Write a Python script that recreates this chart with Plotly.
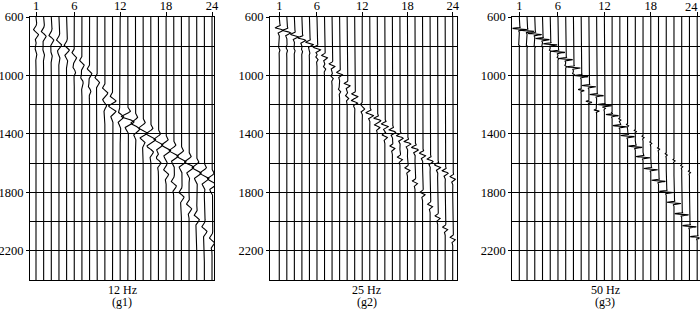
import numpy as np
import plotly.graph_objects as go

# ---------------- data ----------------
TRACES = list(range(1, 25))
X_TICKS = [1, 6, 12, 18, 24]
Y_TICKS = [600, 1000, 1400, 1800, 2200]
T_MIN, T_MAX = 600, 2400
FREQS_HZ = [12, 25, 50]
FREQ_LABELS = ["12 Hz", "25 Hz", "50 Hz"]
PANEL_LABELS = ["(g1)", "(g2)", "(g3)"]

# event A: main (curved) arrival, ms per trace
G1_A_TIME = [702, 714, 740, 772, 808, 860, 912, 970, 1030, 1100, 1160, 1225,
             1292, 1365, 1435, 1508, 1580, 1660, 1740, 1815, 1895, 1970, 2050, 2128]
G1_A_AMP = [0.38, 0.38, 0.38, 0.38, 0.38, 0.35, 0.35, 0.35, 0.35, 0.35, 0.35, 0.35,
            0.35, 0.35, 0.35, 0.35, 0.38, 0.38, 0.4, 0.4, 0.4, 0.4, 0.4, 0.4]
# event B: linear band arrival
G1_B_TIME = [None] * 9 + [1187, 1225, 1264, 1302, 1340, 1378, 1417, 1455, 1494,
                          1532, 1570, 1610, 1648, 1686, 1725]
G1_B_AMP = [0] * 9 + [0.25, 0.5, 0.6, 0.65, 0.65, 0.65, 0.65, 0.65, 0.65,
                      0.65, 0.65, 0.65, 0.65, 0.65, 0.65]
# event C: weak trailing arrival
G1_C_TIME = [830, 835, 845, 860, 880, 960, 1030, 1090] + [None] * 16
G1_C_AMP = [0.15, 0.15, 0.15, 0.15, 0.15, 0.2, 0.2, 0.2] + [0] * 16

G2_A_TIME = [682, 700, 726, 751, 780, 815, 870, 928, 986, 1062, 1134, 1203,
             1271, 1347, 1415, 1490, 1566, 1640, 1730, 1806, 1888, 1968, 2045, 2115]
G2_A_AMP = [0.6, 0.6, 0.6, 0.6, 0.6, 0.55, 0.45, 0.45, 0.45, 0.45, 0.45, 0.45,
            0.4, 0.4, 0.4, 0.4, 0.4, 0.4, 0.4, 0.4, 0.4, 0.4, 0.4, 0.4]
G2_B_TIME = [None] * 9 + [1140, 1180, 1220, 1260, 1300, 1340, 1380, 1420, 1460,
                          1500, 1540, 1580, 1620, 1660, 1700]
G2_B_AMP = [0] * 9 + [0.2, 0.45, 0.5, 0.5, 0.5, 0.5, 0.5, 0.5, 0.5,
                      0.5, 0.45, 0.45, 0.45, 0.45, 0.4]
G2_C_TIME = [815, 818, 820, 825, 832, 880, 945, 1010, 1100, 1150] + [None] * 14
G2_C_AMP = [0.12, 0.12, 0.12, 0.12, 0.12, 0.2, 0.2, 0.2, 0.2, 0.2] + [0] * 14

G3_A_TIME = [682, 694, 716, 751, 787, 838, 888, 945, 1004, 1073, 1134, 1203,
             1271, 1347, 1415, 1488, 1559, 1641, 1721, 1797, 1872, 1950, 2032, 2107]
G3_A_AMP = [1.15] * 24
G3_B_TIME = [None] * 11 + [1220, 1260, 1300, 1340, 1380, 1420, 1460,
                           1500, 1540, 1580, 1620, 1660, None]
G3_B_AMP = [0] * 11 + [0.15] * 12 + [0]
G3_C_TIME = [795, 798, 800, 805, 830, 880, 935, 990, 1100, 1180, 1240] + [None] * 13
G3_C_AMP = [0.12, 0.12, 0.12, 0.12, 0.15, 0.15, 0.15, 0.15, 0.5, 0.5, 0.45] + [0] * 13

PANELS = [
    [(G1_A_TIME, G1_A_AMP), (G1_B_TIME, G1_B_AMP), (G1_C_TIME, G1_C_AMP)],
    [(G2_A_TIME, G2_A_AMP), (G2_B_TIME, G2_B_AMP), (G2_C_TIME, G2_C_AMP)],
    [(G3_A_TIME, G3_A_AMP), (G3_B_TIME, G3_B_AMP), (G3_C_TIME, G3_C_AMP)],
]

# ---------------- layout / style constants ----------------
W, H = 700, 309
X_DOMAINS_PX = [(30, 214), (270, 456.7), (512.3, 699.5)]
X_RANGES = [(0.216, 24.26), (-0.23, 24.53), (0.094, 24.3)]
Y_TOP_PX, Y_BOT_PX = 17, 280
LABEL_CENTERS_PX = [122, 367, 605]
# wavelet envelope width (in cycles) for events A, B, C of each panel
ENVELOPE_WIDTH = [(0.6, 0.8, 0.6), (0.6, 0.7, 0.6), (0.45, 0.8, 0.45)]
FONT = "Liberation Serif, Times New Roman, serif"


def wavelet(tau_ms, f, width):
    ph = f * tau_ms / 1000.0
    return np.sin(2 * np.pi * ph) * np.exp(-(ph / width) ** 2)


t = np.arange(T_MIN, T_MAX + 1, 1.0)
fig = go.Figure()

for p, events in enumerate(PANELS):
    f = FREQS_HZ[p]
    xs, ys = [], []
    for i, n in enumerate(TRACES):
        x = np.full_like(t, float(n))
        for e, (times, amps) in enumerate(events):
            tk, ak = times[i], amps[i]
            if tk is None or ak == 0:
                continue
            x = x + ak * wavelet(t - tk, f, ENVELOPE_WIDTH[p][e])
        xs.extend(np.round(x, 3).tolist() + [None])
        ys.extend(t.tolist() + [None])
    suffix = "" if p == 0 else str(p + 1)
    fig.add_trace(go.Scatter(
        x=xs, y=ys, mode="lines", xaxis="x" + suffix, yaxis="y" + suffix,
        line=dict(color="black", width=1.1), hoverinfo="skip", showlegend=False,
    ))

    # last panel: the "24" label sits on the page edge, so it is drawn as an annotation
    last = p == len(PANELS) - 1
    ticktext = [str(v) if not (last and v == X_TICKS[-1]) else "" for v in X_TICKS]

    d0, d1 = X_DOMAINS_PX[p]
    fig.update_layout(**{
        "xaxis" + suffix: dict(
            domain=[d0 / W, d1 / W], range=list(X_RANGES[p]), side="top",
            anchor="y" + suffix, tickmode="array", tickvals=X_TICKS,
            ticktext=ticktext,
            ticks="outside", ticklen=4, tickcolor="black", tickwidth=1,
            ticklabelstandoff=-3, ticklabeloverflow="allow",
            showgrid=False, zeroline=False, showline=True, mirror=True,
            linecolor="black", linewidth=1.2, automargin=False,
            tickfont=dict(family=FONT, size=12.5, color="black"),
        ),
        "yaxis" + suffix: dict(
            domain=[1 - Y_BOT_PX / H, 1 - Y_TOP_PX / H], range=[T_MAX, T_MIN],
            anchor="x" + suffix, tickmode="array", tickvals=Y_TICKS,
            ticks="outside", ticklen=3, tickcolor="black",
            ticklabeloverflow="allow",
            showgrid=True, gridcolor="black", gridwidth=1.1,
            minor=dict(tickmode="linear", tick0=600, dtick=200, showgrid=True,
                       gridcolor="black", gridwidth=1.1, ticks=""),
            zeroline=False, showline=True, mirror=True,
            linecolor="black", linewidth=1.2, automargin=False,
            tickfont=dict(family=FONT, size=12.5, color="black"),
        ),
    })
    if last:
        fig.add_annotation(x=1.0, xref="paper", y=1 - 7 / H,
                           yref="paper", xanchor="right", yanchor="middle",
                           text=str(X_TICKS[-1]), showarrow=False,
                           font=dict(family=FONT, size=12.5, color="black"))
    cx = LABEL_CENTERS_PX[p] / W
    fig.add_annotation(x=cx, y=1 - 289.5 / H, xref="paper", yref="paper",
                       xanchor="center", yanchor="middle",
                       text=FREQ_LABELS[p], showarrow=False,
                       font=dict(family=FONT, size=12, color="black"))
    fig.add_annotation(x=cx, y=1 - 302 / H, xref="paper", yref="paper",
                       xanchor="center", yanchor="middle",
                       text=PANEL_LABELS[p], showarrow=False,
                       font=dict(family=FONT, size=12, color="black"))

fig.update_layout(
    width=W, height=H, margin=dict(l=0, r=0, t=0, b=0, autoexpand=False),
    paper_bgcolor="white", plot_bgcolor="white", showlegend=False,
)
fig.write_html(
    "out.html",
    config={"displayModeBar": False},
    post_script="document.body.style.margin='0';document.body.style.overflow='hidden';",
)
